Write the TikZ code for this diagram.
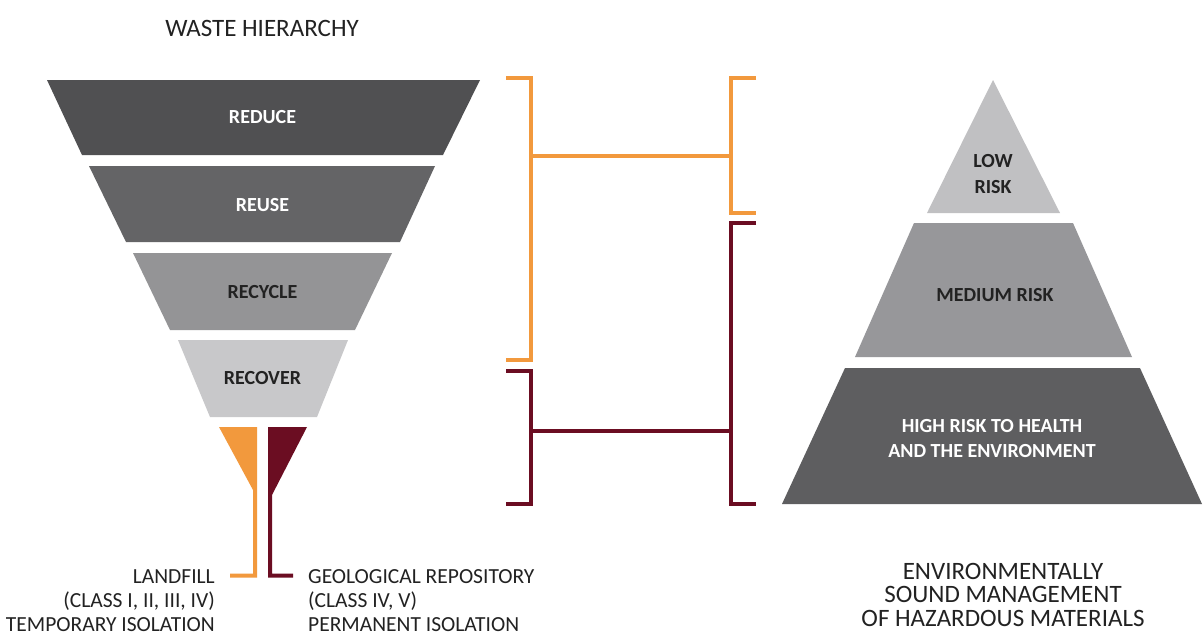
\documentclass[tikz,border=0pt]{standalone}
\usepackage{fontspec}
\setmainfont{Carlito}
\definecolor{orng}{HTML}{F2993D}
\definecolor{dred}{HTML}{6B0D22}
\definecolor{gA}{HTML}{505052}
\definecolor{gB}{HTML}{646466}
\definecolor{gC}{HTML}{949496}
\definecolor{gD}{HTML}{C8C8CA}
\definecolor{gE}{HTML}{C0C0C2}
\definecolor{gF}{HTML}{97979A}
\definecolor{gG}{HTML}{5E5E60}
\definecolor{txt}{HTML}{222222}
\begin{document}
\begin{tikzpicture}[x=1pt,y=-1pt,
  title/.style={font=\fontsize{25}{23.5}\selectfont, text=txt, inner sep=0pt, align=center},
  sublbl/.style={font=\fontsize{21.5}{24}\selectfont, text=txt, inner sep=0pt},
  inwhite/.style={font=\bfseries\fontsize{20}{25}\selectfont, text=white, inner sep=0pt, align=center},
  indark/.style={font=\bfseries\fontsize{20}{25}\selectfont, text=txt, inner sep=0pt, align=center},
  brk/.style={line width=3.5pt, line cap=butt, line join=miter}]
\useasboundingbox (0,0) rectangle (1203,635);
\fill[white] (0,0) rectangle (1203,635);

% ---- waste hierarchy funnel ----
\fill[gA] (47,80) -- (480,80) -- (443,155) -- (82,155) -- cycle;
\fill[gB] (89,166) -- (435,166) -- (400,242) -- (126,242) -- cycle;
\fill[gC] (133,253) -- (392,253) -- (355,330) -- (170,330) -- cycle;
\fill[gD] (178,340) -- (348,340) -- (317,417) -- (210,417) -- cycle;
% stems
\fill[orng] (219,427) -- (257,427) -- (257,577.5) -- (230,577.5) -- (230,573.5) -- (253,573.5) -- (253,490) -- cycle;
\fill[dred] (307,427) -- (268,427) -- (268,577.5) -- (293,577.5) -- (293,573.5) -- (272,573.5) -- (272,495) -- cycle;

\node[title, anchor=base] (wh) at (262,36) {WASTE HIERARCHY};
\node[inwhite, anchor=base] (reduce) at (262.5,123) {REDUCE};
\node[inwhite, anchor=base] (reuse) at (262.5,211) {REUSE};
\node[indark, anchor=base] (recycle) at (262.5,298) {RECYCLE};
\node[indark, anchor=base] (recover) at (262.5,384) {RECOVER};

\node[sublbl, align=right, anchor=north east] (landfill) at (215,569)
  {LANDFILL\\(CLASS I, II, III, IV)\\TEMPORARY ISOLATION};
\node[sublbl, align=left, anchor=north west] (geo) at (308,569)
  {GEOLOGICAL REPOSITORY\\(CLASS IV, V)\\PERMANENT ISOLATION};

% ---- brackets ----
\coordinate (oLt) at (506,78);  \coordinate (oLb) at (506,360);
\coordinate (oRt) at (756,78);  \coordinate (oRb) at (756,213);
\coordinate (rLt) at (506,371); \coordinate (rLb) at (506,504);
\coordinate (rRt) at (756,223); \coordinate (rRb) at (756,504);
\draw[brk, orng] (oLt) -- (531,78) -- (531,360) -- (oLb);
\draw[brk, orng] (oRt) -- (731,78) -- (731,213) -- (oRb);
\draw[brk, orng] (531,156) -- (731,156);
\draw[brk, dred] (rLt) -- (531,371) -- (531,504) -- (rLb);
\draw[brk, dred] (rRt) -- (731,223) -- (731,504) -- (rRb);
\draw[brk, dred] (531,431) -- (731,431);

% ---- risk pyramid ----
\fill[gE] (993,80) -- (1060,213) -- (927,213) -- cycle;
\fill[gF] (914,223) -- (1073,223) -- (1132,357) -- (855,357) -- cycle;
\fill[gG] (845,368) -- (1140,368) -- (1202,504) -- (782,504) -- cycle;

\node[indark, anchor=base] (low) at (993,167) {LOW};
\node[indark, anchor=base] (lowr) at (993,193) {RISK};
\node[indark, anchor=base] (med) at (995,301) {MEDIUM RISK};
\node[inwhite, anchor=base] (high1) at (992,432) {HIGH RISK TO HEALTH};
\node[inwhite, anchor=base] (high2) at (992,457) {AND THE ENVIRONMENT};

\node[title, anchor=north] (esm) at (1003,563)
  {ENVIRONMENTALLY\\SOUND MANAGEMENT\\OF HAZARDOUS MATERIALS};
\end{tikzpicture}
\end{document}
